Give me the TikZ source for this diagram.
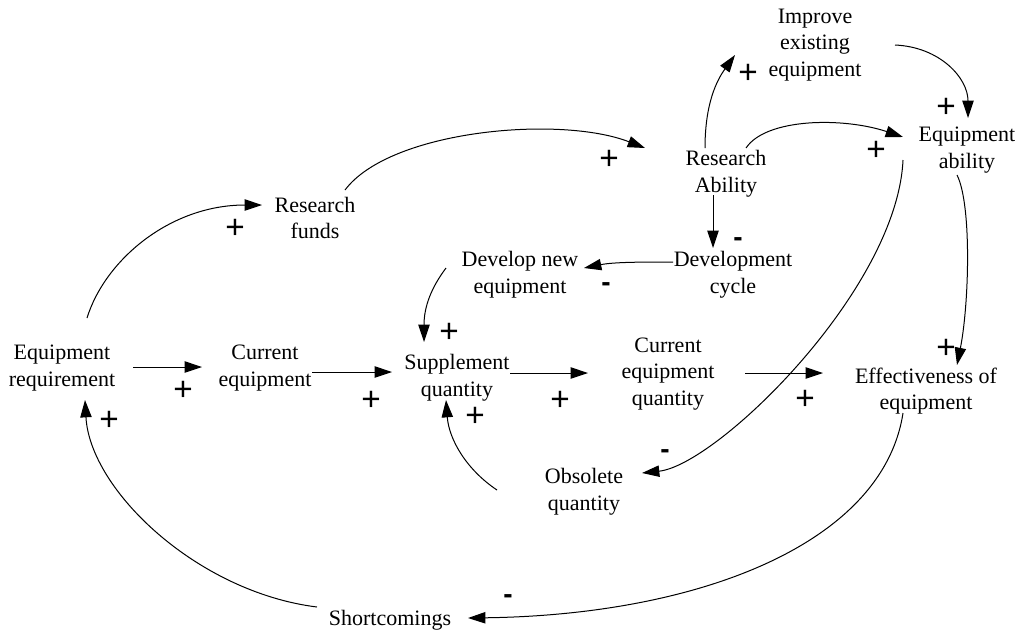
\documentclass[tikz,border=0pt]{standalone}
\usepackage{fontspec}
\setmainfont{Liberation Serif}
\newfontfamily\signfont{Liberation Sans}
\usetikzlibrary{arrows.meta}
\begin{document}
\begin{tikzpicture}[x=0.75pt,y=-0.75pt,
  var/.style={font=\fontsize{16.5}{20}\selectfont, align=center, inner sep=0pt},
  arr/.style={-{Triangle[length=13pt,width=8.5pt]}, line width=0.75pt},
  plussign/.style={font=\signfont\fontsize{25}{25}\selectfont, inner sep=0pt},
  minussign/.style={font=\signfont\bfseries\fontsize{21}{21}\selectfont, inner sep=0pt}]
\useasboundingbox (0,0) rectangle (1019,633);

% variables
\node[var] (req)  at (62,368)  {Equipment\\requirement};
\node[var] (cur)  at (265,368) {Current\\equipment};
\node[var] (sup)  at (457,378) {Supplement\\quantity};
\node[var] (ceq)  at (668,374) {Current\\equipment\\quantity};
\node[var] (eff)  at (926,391) {Effectiveness of\\equipment};
\node[var] (obs)  at (584,492) {Obsolete\\quantity};
\node[var] (sho)  at (390,620) {Shortcomings};
\node[var] (fund) at (315,218) {Research\\funds};
\node[var] (rab)  at (726,174) {Research\\Ability};
\node[var] (imp)  at (815,45)  {Improve\\existing\\equipment};
\node[var] (eab)  at (967,150) {Equipment\\ability};
\node[var] (dcy)  at (733,275) {Development\\cycle};
\node[var] (dnew) at (520,275) {Develop new\\equipment};

% links
\draw[arr] ([shift={(25,-50)}]req.center) .. controls +(18,-58) and +(-92,0) .. ([shift={(-53,-13)}]fund.center);
\draw[arr] ([shift={(30,-28)}]fund.center) .. controls +(45,-60) and +(-85,-33) .. ([shift={(-81,-26)}]rab.center);
\draw[arr] ([shift={(-21,-26)}]rab.center) .. controls +(0,-45) and +(-18,25) .. ([shift={(-80,10)}]imp.center);
\draw[arr] ([shift={(80,0)}]imp.center) .. controls +(45,2) and +(0,-40) .. ([shift={(1,-32)}]eab.center);
\draw[arr] ([shift={(20,-26)}]rab.center) .. controls +(20,-30) and +(-60,-20) .. ([shift={(-64,-13)}]eab.center);
\draw[arr] ([shift={(-13,21)}]rab.center) -- ([shift={(-20,-27)}]dcy.center);
\draw[arr] ([shift={(-60,-13)}]dcy.center) .. controls +(-30,0) and +(30,-6) .. ([shift={(64,-7)}]dnew.center);
\draw[arr] ([shift={(-74,-7)}]dnew.center) .. controls +(-15,20) and +(0,-35) .. ([shift={(-33,-36)}]sup.center);
\draw[arr] ([shift={(71,-1)}]req.center) -- ([shift={(-63,-1)}]cur.center);
\draw[arr] ([shift={(47,4)}]cur.center) -- ([shift={(-65,-6)}]sup.center);
\draw[arr] ([shift={(53,-5)}]sup.center) -- ([shift={(-80,-1)}]ceq.center);
\draw[arr] ([shift={(77,-1)}]ceq.center) -- ([shift={(-103,-18)}]eff.center);
\draw[arr] ([shift={(-10,25)}]eab.center) .. controls +(15,30) and +(12,-60) .. ([shift={(31,-26)}]eff.center);
\draw[arr] ([shift={(-64,10)}]eab.center) .. controls +(-6,130) and +(75,-8) .. ([shift={(58,-19)}]obs.center);
\draw[arr] ([shift={(-87,-2)}]obs.center) .. controls +(-30,-20) and +(3,40) .. ([shift={(-11,22)}]sup.center);
\draw[arr] ([shift={(-23,22)}]eff.center) .. controls +(-20,130) and +(232,-3) .. ([shift={(78,-2)}]sho.center);
\draw[arr] ([shift={(-73,-13)}]sho.center) .. controls +(-120,-15) and +(5,90) .. ([shift={(23,32)}]req.center);

% polarities
\node[plussign] (p1)  at (235,229) {+};
\node[plussign] (p2)  at (609,160) {+};
\node[plussign] (p3)  at (748,74)  {+};
\node[plussign] (p4)  at (946,108) {+};
\node[plussign] (p5)  at (876,151) {+};
\node[plussign] (p6)  at (449,333) {+};
\node[plussign] (p7)  at (183,391) {+};
\node[plussign] (p8)  at (371,401) {+};
\node[plussign] (p9)  at (560,401) {+};
\node[plussign] (p10) at (805,400) {+};
\node[plussign] (p11) at (946,349) {+};
\node[plussign] (p12) at (475,417) {+};
\node[plussign] (p13) at (109,421) {+};
\node[minussign] (m1)  at (738,242) {-};
\node[minussign] (m2)  at (606,287) {-};
\node[minussign] (m3)  at (665,454) {-};
\node[minussign] (m4)  at (508,599) {-};
\end{tikzpicture}
\end{document}
